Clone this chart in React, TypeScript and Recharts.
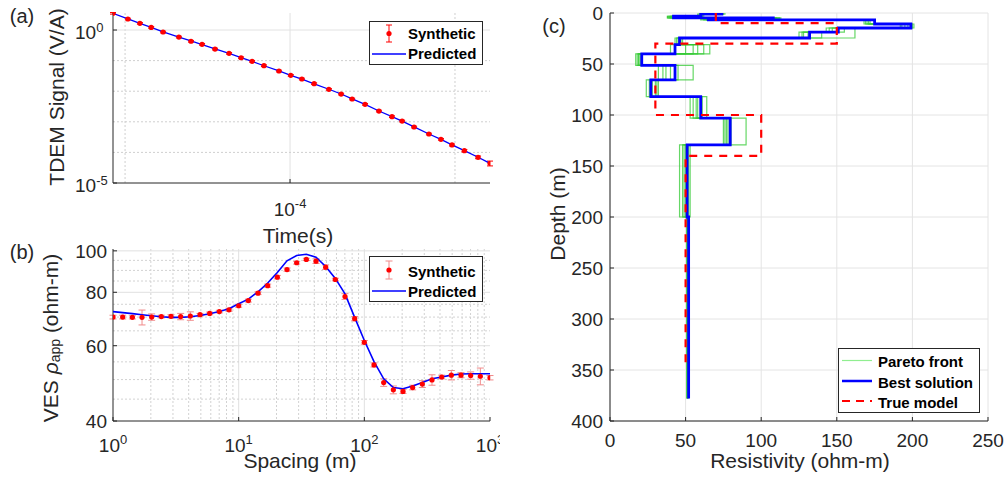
import React from "react";
import { ComposedChart, Scatter, XAxis, YAxis, ErrorBar, CartesianGrid } from "recharts";

const INK = "#262626";
const EDGE = "#a8a8a8";
const PINK = "#f08a8a";
const FONT = "Arial, 'Liberation Sans', Helvetica, sans-serif";
const TICK_IN = -4; // MATLAB-style ticks pointing into the axes

// (a) TDEM decay: gate times (s), synthetic data, predicted response
const tdemTime = [
  8.45e-6, 1.04e-5, 1.23e-5, 1.44e-5, 1.7e-5, 2.12e-5, 2.51e-5, 2.93e-5, 3.51e-5, 4.27e-5, 5.05e-5,
  5.89e-5, 6.95e-5, 8.57e-5, 1.01e-4, 1.18e-4, 1.4e-4, 1.72e-4, 2.04e-4, 2.38e-4, 2.85e-4, 3.46e-4,
  4.15e-4, 4.78e-4, 5.65e-4, 6.95e-4, 8.22e-4, 9.59e-4, 1.14e-3, 1.38e-3, 1.63e-3,
];
const tdemSynthetic = [
  3.52, 2.29, 1.66, 1.22, 0.86, 0.59, 0.43, 0.341, 0.239, 0.173, 0.124, 0.0948, 0.0681, 0.0457, 0.0331,
  0.0251, 0.0176, 0.01153, 0.00809, 0.00556, 0.00373, 0.00225, 0.00147, 0.00106, 0.000676, 0.000399,
  0.000268, 0.000175, 0.000114, 6.92e-5, 4.41e-5,
];
const tdemPredicted = [
  3.5, 2.3, 1.65, 1.23, 0.87, 0.59, 0.44, 0.335, 0.24, 0.172, 0.125, 0.094, 0.068, 0.046, 0.0332,
  0.025, 0.0175, 0.0116, 0.0081, 0.0056, 0.0037, 0.00226, 0.00148, 0.00105, 0.00068, 0.0004,
  0.000268, 0.000176, 0.000114, 6.95e-5, 4.4e-5,
];
const tdemErrPct = [6, 6, 6, 6, 6, 6, 6, 6, 6, 6, 6, 6, 6, 6, 6, 6, 6, 6, 6, 6, 6, 6, 6, 6, 6, 6, 6, 7, 8, 10, 18];

// (b) VES sounding: AB/2 spacing (m), apparent resistivity (ohm-m)
const vesSpacing = [
  1.0, 1.194, 1.426, 1.702, 2.031, 2.424, 2.894, 3.455, 4.125, 4.924, 5.878, 7.017, 8.377, 10.0, 11.94,
  14.26, 17.02, 20.31, 24.24, 28.94, 34.55, 41.25, 49.24, 58.78, 70.17, 83.77, 100.0, 119.4, 142.6,
  170.2, 203.1, 242.4, 289.4, 345.5, 412.5, 492.4, 587.8, 701.7, 837.7, 1000,
];
const vesSynthetic = [
  70.0, 70.0, 69.9, 69.9, 70.0, 70.2, 70.3, 70.2, 70.4, 70.9, 71.4, 72.1, 72.8, 74.4, 76.5, 79.6, 82.9,
  86.8, 90.4, 93.8, 95.5, 94.6, 91.6, 85.7, 78.2, 69.4, 61.1, 54.1, 49.2, 47.3, 46.9, 47.9, 48.8, 49.9,
  50.7, 51.2, 51.2, 51.1, 50.9, 50.5,
];
const vesErr = [
  0.7, 0.7, 0.6, 2.8, 1.2, 0.5, 0.6, 1.2, 1.6, 0.5, 0.5, 0.5, 0.6, 0.6, 0.6, 0.6, 0.7, 0.8, 0.8, 0.7,
  0.6, 1.2, 1.1, 0.6, 1.2, 0.8, 0.6, 0.6, 1.0, 1.0, 0.5, 0.6, 0.9, 1.4, 0.5, 1.3, 0.7, 1.0, 2.3, 0.6,
];
const vesPredicted = [
  72.1, 71.7, 71.3, 70.9, 70.5, 70.1, 69.9, 69.9, 70.1, 70.6, 71.3, 72.1, 73.2, 75.2, 77.1, 80.2, 84.1,
  89.0, 94.8, 97.5, 98.2, 96.6, 91.9, 86.2, 79.3, 69.9, 61.7, 55.1, 50.2, 47.9, 47.6, 48.3, 49.2, 50.2,
  50.7, 51.2, 51.5, 51.6, 51.6, 51.6,
];

// (c) layered models: layer boundaries (m) and layer resistivities (ohm-m)
const modelDepth = [0, 1.2, 3.2, 4.8, 5.6, 6.8, 10.8, 14.7, 18.7, 24.5, 31, 40, 51.4, 65.5, 82, 103, 129.3, 200, 378];
const bestRes = [74, 60, 42, 108, 65, 175, 199, 151, 132, 46, 43, 21, 43, 27, 60, 79.5, 51, 52];
const pareto1 = [75, 61, 38, 110, 62, 168, 192, 143, 125, 44, 50, 17, 32, 24, 53, 75, 48, 51];
const pareto2 = [73, 59, 40, 113, 66, 170, 195, 145, 128, 48, 55, 18, 37, 30, 58, 77, 50, 51];
const pareto3 = [76, 62, 42, 106, 64, 172, 200, 147, 131, 45, 58, 19, 40, 31, 64, 80, 53, 51.5];
const pareto4 = [72, 58, 39, 108, 68, 175, 197, 162, 162, 47, 62, 20, 55, 32, 61, 90, 46, 52];
const pareto5 = [74, 60, 41, 112, 60, 169, 193, 155, 140, 46, 66, 21, 45, 26, 55, 78, 49, 51];
const pareto6 = [73, 61, 38, 104, 65, 171, 201, 150, 127, 43, 40, 19, 35, 28, 57, 76, 52, 51];
const trueDepth = [0, 10, 30, 100, 140, 345];
const trueRes = [70, 150, 30, 100, 50];

// turn a layered model into a staircase path
function steps(depth: number[], res: number[]) {
  const pts: { r: number; d: number }[] = [];
  res.forEach((r, i) => {
    pts.push({ r, d: depth[i] });
    pts.push({ r, d: depth[i + 1] });
  });
  return pts;
}

const redDot = (p: any) => <circle cx={p.cx} cy={p.cy} r={2.6} fill="#ff0000" />;
const noDot = () => <g />;

// tick renderers; props x/y sit 4px inside the box because the tick marks point inward
const xLogTick = (offset: number) => (p: any) => {
  const e = Math.round(Math.log10(p.payload.value));
  return (
    <text x={p.x} y={p.y + 4 + offset} textAnchor="middle" fontSize={19} fill={INK}>
      10<tspan dy={-8} fontSize={13}>{e}</tspan>
    </text>
  );
};
const yLogTick = (p: any) => {
  const e = Math.round(Math.log10(p.payload.value));
  return (
    <text x={p.x - 4 - 38} y={p.y + 9} fontSize={19} fill={INK}>
      10<tspan dy={-7.5} fontSize={13}>{e}</tspan>
    </text>
  );
};
const yNumTick = (gap: number) => (p: any) => (
  <text x={p.x - 4 - gap} y={p.y + 7} textAnchor="end" fontSize={19} fill={INK}>
    {p.payload.value}
  </text>
);
const xNumTick = (p: any) => (
  <text x={p.x} y={p.y + 4 + 26} textAnchor="middle" fontSize={19} fill={INK}>
    {p.payload.value}
  </text>
);

const mainAxis = { tickSize: TICK_IN, tickMargin: 0, tickLine: { stroke: INK }, axisLine: { stroke: INK }, interval: 0 as const };
const edgeAxis = { tickSize: TICK_IN, tickMargin: 0, tick: false, tickLine: { stroke: INK }, axisLine: { stroke: EDGE }, interval: 0 as const };

export default function App() {
  const tdemRows = tdemTime.map((t, i) => ({ x: t, y: tdemSynthetic[i], e: (tdemSynthetic[i] * tdemErrPct[i]) / 100 }));
  const tdemLine = tdemTime.map((t, i) => ({ x: t, y: tdemPredicted[i] }));
  const vesRows = vesSpacing.map((s, i) => ({ x: s, y: vesSynthetic[i], e: vesErr[i] }));
  const vesLine = vesSpacing.map((s, i) => ({ x: s, y: vesPredicted[i] }));
  const paretoSets = [pareto1, pareto2, pareto3, pareto4, pareto5, pareto6];

  const tDomain = [tdemTime[0], tdemTime[tdemTime.length - 1]];
  const sDomain = [1e-5, 3.6];

  return (
    <div style={{ position: "absolute", left: 0, top: 0, width: 1006, height: 483, background: "#fff", overflow: "hidden", fontFamily: FONT }}>
      {/* (a) */}
      <div style={{ position: "absolute", left: 0, top: 0 }}>
        <ComposedChart width={500} height={240} margin={{ top: 13, right: 10, bottom: 0, left: 0 }}>
          <CartesianGrid horizontal={false} verticalValues={[1e-5, 1e-3]} stroke="#cfcfcf" strokeDasharray="2 2" />
          <CartesianGrid horizontal={false} verticalValues={[1e-4]} stroke="#e2e2e2" />
          <CartesianGrid vertical={false} horizontalValues={[1e-1, 1e-2, 1e-3, 1e-4]} stroke="#cfcfcf" strokeDasharray="2 2" />
          <CartesianGrid vertical={false} horizontalValues={[1]} stroke="#e2e2e2" />
          <XAxis type="number" dataKey="x" scale="log" domain={tDomain} allowDataOverflow ticks={[1e-4]} height={57} tick={xLogTick(33)} {...mainAxis} />
          <YAxis type="number" dataKey="y" scale="log" domain={sDomain} allowDataOverflow ticks={[1e-5, 1]} width={113} tick={yLogTick} {...mainAxis} />
          <XAxis xAxisId="top" orientation="top" type="number" scale="log" domain={tDomain} allowDataOverflow ticks={[1e-5, 1e-4, 1e-3]} height={0} {...edgeAxis} />
          <YAxis yAxisId="right" orientation="right" type="number" scale="log" domain={sDomain} allowDataOverflow ticks={[1e-4, 1e-3, 1e-2, 1e-1, 1]} width={0} {...edgeAxis} />
          <Scatter data={tdemLine} shape={noDot} line={{ stroke: "#0000ff", strokeWidth: 1.3 }} isAnimationActive={false} />
          <Scatter data={tdemRows} shape={redDot} isAnimationActive={false}>
            <ErrorBar dataKey="e" direction="y" width={3} stroke="#ff0000" strokeWidth={1} />
          </Scatter>
        </ComposedChart>
      </div>

      {/* (b) */}
      <div style={{ position: "absolute", left: 0, top: 240 }}>
        <ComposedChart width={500} height={243} margin={{ top: 9, right: 10, bottom: 0, left: 0 }}>
          <CartesianGrid horizontal={false} stroke="#d2d2d2" strokeDasharray="2 2"
            verticalValues={[2, 3, 4, 5, 6, 7, 8, 9, 20, 30, 40, 50, 60, 70, 80, 90, 200, 300, 400, 500, 600, 700, 800, 900]} />
          <CartesianGrid horizontal={false} verticalValues={[10, 100]} stroke="#e0e0e0" />
          <CartesianGrid vertical={false} horizontalValues={[45, 50, 55, 65, 70, 75, 85, 90, 95]} stroke="#d2d2d2" strokeDasharray="2 2" />
          <CartesianGrid vertical={false} horizontalValues={[60, 80, 100]} stroke="#e0e0e0" />
          <XAxis type="number" dataKey="x" scale="log" domain={[1, 1000]} allowDataOverflow ticks={[1, 10, 100, 1000]} height={62} tick={xLogTick(31)} {...mainAxis} />
          <YAxis type="number" dataKey="y" scale="log" domain={[40, 101]} allowDataOverflow ticks={[40, 60, 80, 100]} width={113} tick={yNumTick(6)} {...mainAxis} />
          <XAxis xAxisId="top" orientation="top" type="number" scale="log" domain={[1, 1000]} allowDataOverflow ticks={[10, 100]} height={0} {...edgeAxis} />
          <YAxis yAxisId="right" orientation="right" type="number" scale="log" domain={[40, 101]} allowDataOverflow ticks={[60, 80, 100]} width={0} {...edgeAxis} />
          <Scatter data={vesLine} shape={noDot} line={{ stroke: "#0000ff", strokeWidth: 1.6 }} isAnimationActive={false} />
          <Scatter data={vesRows} shape={redDot} isAnimationActive={false}>
            <ErrorBar dataKey="e" direction="y" width={3.5} stroke={PINK} strokeWidth={1} />
          </Scatter>
        </ComposedChart>
      </div>

      {/* (c) */}
      <div style={{ position: "absolute", left: 520, top: 0 }}>
        <ComposedChart width={486} height={483} margin={{ top: 13, right: 18, bottom: 0, left: 0 }}>
          <CartesianGrid stroke="#e4e4e4" />
          <XAxis type="number" dataKey="r" domain={[0, 250]} allowDataOverflow ticks={[0, 50, 100, 150, 200, 250]} height={62} tick={xNumTick} {...mainAxis} />
          <YAxis type="number" dataKey="d" domain={[0, 400]} reversed allowDataOverflow ticks={[0, 50, 100, 150, 200, 250, 300, 350, 400]}
            width={90} tick={yNumTick(7)} {...mainAxis} />
          <XAxis xAxisId="top" orientation="top" type="number" domain={[0, 250]} allowDataOverflow ticks={[50, 100, 150, 200]} height={0} {...edgeAxis} />
          <YAxis yAxisId="right" orientation="right" type="number" domain={[0, 400]} reversed allowDataOverflow
            ticks={[50, 100, 150, 200, 250, 300, 350]} width={0} {...edgeAxis} />
          {paretoSets.map((res, k) => (
            <Scatter key={k} data={steps(modelDepth, res)} shape={noDot}
              line={{ stroke: "#33c933", strokeWidth: 1.2, strokeOpacity: 0.75 }} isAnimationActive={false} />
          ))}
          <Scatter data={steps(modelDepth, bestRes)} shape={noDot} line={{ stroke: "#0000ff", strokeWidth: 2.8 }} isAnimationActive={false} />
          <Scatter data={steps(trueDepth, trueRes)} shape={noDot}
            line={{ stroke: "#ff0000", strokeWidth: 2.2, strokeDasharray: "8 7" }} isAnimationActive={false} />
        </ComposedChart>
      </div>

      {/* titles, panel letters and legends */}
      <svg width={1006} height={483} style={{ position: "absolute", left: 0, top: 0, pointerEvents: "none" }} fontFamily={FONT}>
        <text x={22} y={23} textAnchor="middle" fontSize={20} fill={INK}>(a)</text>
        <text x={22} y={259} textAnchor="middle" fontSize={20} fill={INK}>(b)</text>
        <text x={554} y={33} textAnchor="middle" fontSize={20} fill={INK}>(c)</text>

        <text transform="translate(56,97) rotate(-90)" textAnchor="middle" dominantBaseline="central" fontSize={21} fill={INK}>
          TDEM Signal (V/A)
        </text>
        <text x={298} y={243} textAnchor="middle" fontSize={21} fill={INK}>Time(s)</text>
        <text transform="translate(50,338) rotate(-90)" textAnchor="middle" dominantBaseline="central" fontSize={21} fill={INK}>
          VES <tspan fontStyle="italic">ρ</tspan>
          <tspan dy={5} fontSize={14}>app</tspan>
          <tspan dy={-5}> (ohm-m)</tspan>
        </text>
        <text x={300} y={468} textAnchor="middle" fontSize={21} fill={INK}>Spacing (m)</text>
        <text transform="translate(557,214) rotate(-90)" textAnchor="middle" dominantBaseline="central" fontSize={21} fill={INK}>
          Depth (m)
        </text>
        <text x={800} y={468} textAnchor="middle" fontSize={21} fill={INK}>Resistivity (ohm-m)</text>

        {/* legend (a) */}
        <rect x={369.5} y={21.5} width={113} height={43} fill="#fff" stroke={INK} />
        <line x1={389} x2={389} y1={25} y2={42} stroke="#ff0000" />
        <line x1={386} x2={392} y1={25} y2={25} stroke="#ff0000" />
        <line x1={386} x2={392} y1={42} y2={42} stroke="#ff0000" />
        <circle cx={389} cy={33.5} r={2.6} fill="#ff0000" />
        <text x={408} y={39} fontSize={15} fontWeight="bold" fill="#000">Synthetic</text>
        <line x1={372} x2={406} y1={54} y2={54} stroke="#0000ff" strokeWidth={1.3} />
        <text x={408} y={59} fontSize={15} fontWeight="bold" fill="#000">Predicted</text>

        {/* legend (b) */}
        <rect x={369.5} y={256.5} width={113} height={45} fill="#fff" stroke={INK} />
        <line x1={389} x2={389} y1={261} y2={279} stroke={PINK} />
        <line x1={385.5} x2={392.5} y1={261} y2={261} stroke={PINK} />
        <line x1={385.5} x2={392.5} y1={279} y2={279} stroke={PINK} />
        <circle cx={389} cy={270} r={2.6} fill="#ff0000" />
        <text x={408} y={277} fontSize={15} fontWeight="bold" fill="#000">Synthetic</text>
        <line x1={372} x2={406} y1={291} y2={291} stroke="#0000ff" strokeWidth={1.6} />
        <text x={408} y={297} fontSize={15} fontWeight="bold" fill="#000">Predicted</text>

        {/* legend (c) */}
        <rect x={838.5} y={348.5} width={141} height={64} fill="#fff" stroke={INK} />
        <line x1={842} x2={872} y1={360.5} y2={360.5} stroke="#90ee90" strokeWidth={1.2} />
        <text x={878} y={367} fontSize={15} fontWeight="bold" fill="#000">Pareto front</text>
        <line x1={842} x2={872} y1={381} y2={381} stroke="#0000ff" strokeWidth={2.5} />
        <text x={878} y={388} fontSize={15} fontWeight="bold" fill="#000">Best solution</text>
        <line x1={842} x2={872} y1={401} y2={401} stroke="#ff0000" strokeWidth={2.2} strokeDasharray="8 6" />
        <text x={878} y={408} fontSize={15} fontWeight="bold" fill="#000">True model</text>
      </svg>
    </div>
  );
}
